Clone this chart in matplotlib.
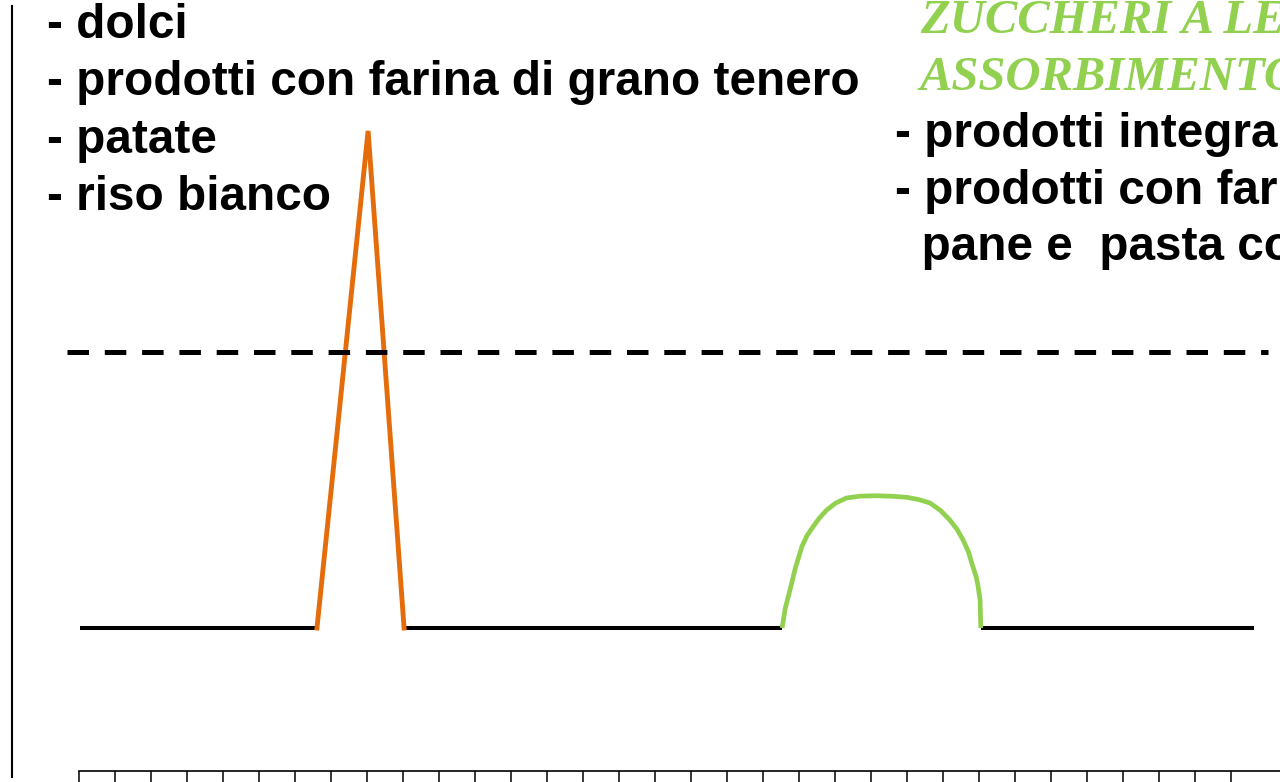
import numpy as np
import matplotlib
matplotlib.use("Agg")
import matplotlib.pyplot as plt

# time axis in tick units, level in units of the fasting baseline
ticks = list(range(33))

base_segments = [(0.03, 6.61), (9.03, 19.53), (25.05, 32.64)]
base_level = 1.0
threshold = 2.93
threshold_span = (-0.33, 33.03)

fast_t = [6.61, 8.03, 9.03]
fast_level = [1.0, 4.476, 1.0]

slow_t = [19.53, 19.62, 19.75, 19.9, 20.08, 20.22, 20.39, 20.57, 20.77, 21.02, 21.32,
          21.7, 22.16, 22.6, 22.99, 23.33, 23.64, 23.93, 24.19, 24.39, 24.56, 24.71,
          24.83, 24.92, 24.97, 25.03, 25.05]
slow_level = [1.0, 1.14, 1.266, 1.42, 1.569, 1.645, 1.708, 1.77, 1.825, 1.874, 1.909,
              1.922, 1.925, 1.921, 1.914, 1.898, 1.874, 1.822, 1.755, 1.69, 1.615, 1.53,
              1.429, 1.36, 1.30, 1.196, 1.0]

left_lines = ["- dolci", "- prodotti con farina di grano tenero", "- patate", "- riso bianco"]
right_title = ["ZUCCHERI A LENTO", "ASSORBIMENTO"]
right_lines = ["- prodotti integrali", "- prodotti con farina di grano duro:", "  pane e  pasta cotti al dente"]

ORANGE = "#E46C0A"
GREEN = "#92D050"

W, H = 1280, 782
fig = plt.figure(figsize=(W / 100, H / 100), dpi=100)
ax = fig.add_axes([0, 0, 1, 1])
ax.set_xlim(-79 / 36, (W - 79) / 36)
ax.set_ylim(-11 / 143, 771 / 143)

for a, b in base_segments:
    ax.plot([a, b], [base_level, base_level], color="black", lw=2.9, solid_capstyle="butt")
ax.plot(fast_t, fast_level, color=ORANGE, lw=3.5, solid_joinstyle="miter")
ax.plot(slow_t, slow_level, color=GREEN, lw=3.4, solid_capstyle="butt", solid_joinstyle="round")
ax.plot(threshold_span, [threshold, threshold], color="black", lw=3.6,
        dashes=(21.5 / 5, 15.8 / 5), dash_capstyle="butt")

for s in ["top", "right"]:
    ax.spines[s].set_visible(False)
ax.spines["bottom"].set_position(("data", 0))
ax.spines["bottom"].set_bounds(0, 40)
ax.spines["bottom"].set_linewidth(1.2)
ax.spines["left"].set_position(("data", -1.875))
ax.spines["left"].set_bounds(-0.04, 5.35)
ax.spines["left"].set_linewidth(1.5)
ax.set_xticks(ticks)
ax.set_yticks([])
ax.tick_params(axis="x", direction="out", length=9, width=1.1, labelbottom=False)

def px(x, y):
    return x / W, 1 - y / H

for i, s in enumerate(left_lines):
    fig.text(*px(47, 38 + i * 57.3), s, fontsize=34.4, fontweight="bold",
             family="Liberation Sans", ha="left", va="baseline")

for i, s in enumerate(right_title):
    fig.text(*px(920, 33 + i * 57), s, fontsize=35, fontweight="bold", style="italic",
             family="Liberation Serif", color=GREEN, ha="left", va="baseline")
for i, s in enumerate(right_lines):
    fig.text(*px(895, 147 + i * 56.5), s, fontsize=34.4, fontweight="bold",
             family="Liberation Sans", ha="left", va="baseline")

fig.savefig("out.png", dpi=100)
